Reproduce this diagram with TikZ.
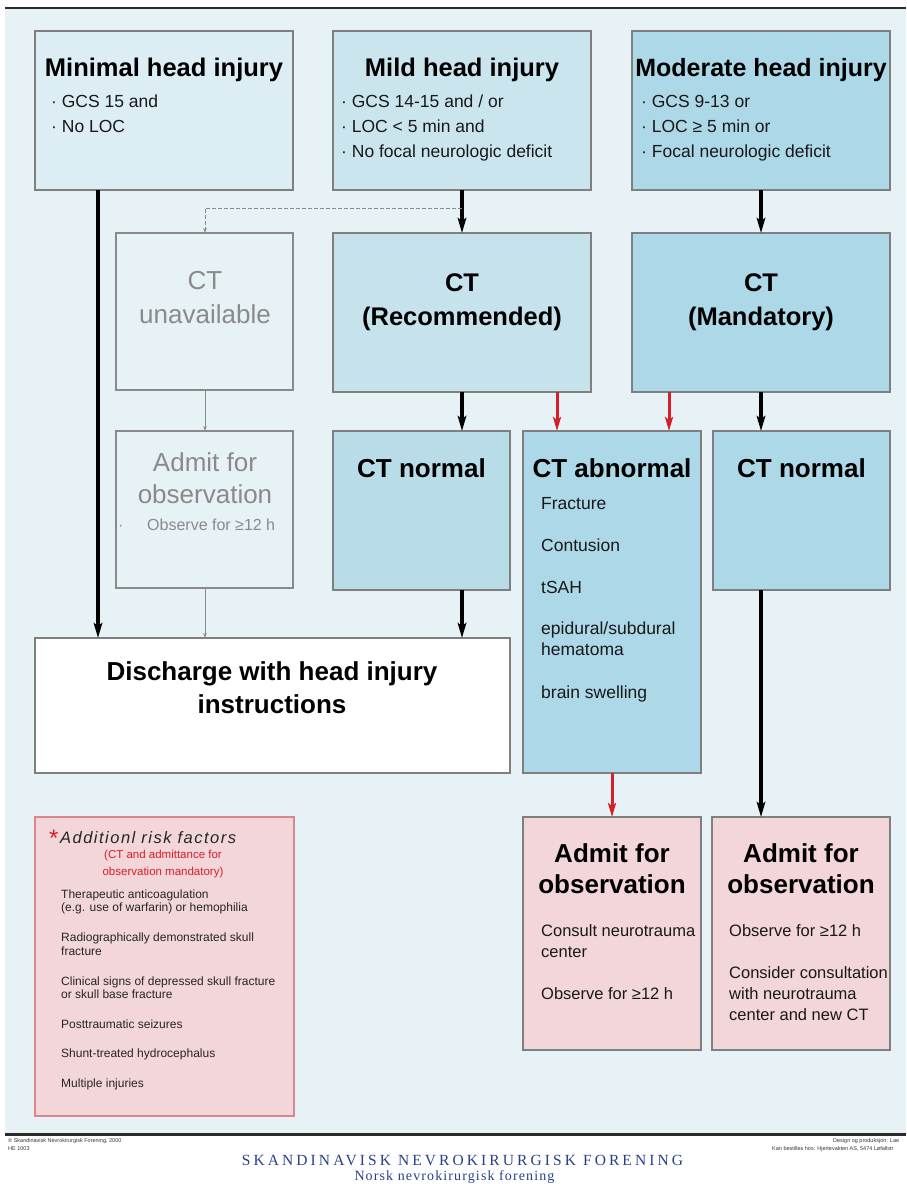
\documentclass[tikz,border=0pt]{standalone}
\usepackage{fontspec}
\setmainfont{Liberation Sans}
\newfontfamily\capserif{Liberation Serif}[LetterSpace=20]
\newfontfamily\lowserif{Liberation Serif}[LetterSpace=8]
\newfontfamily\spacedsans{Liberation Sans}[LetterSpace=9]
\usetikzlibrary{arrows.meta}
\definecolor{cBg}{HTML}{E7F2F6}
\definecolor{cMin}{HTML}{DCEDF4}
\definecolor{cMild}{HTML}{CBE5EF}
\definecolor{cMod}{HTML}{ADD8E7}
\definecolor{cRec}{HTML}{C6E2EC}
\definecolor{cNorm}{HTML}{B9DCE9}
\definecolor{cPink}{HTML}{F2D6D9}
\definecolor{cPinkEdge}{HTML}{D9868C}
\definecolor{cEdge}{HTML}{7F7F7F}
\definecolor{cGrayTxt}{HTML}{8A8A8A}
\definecolor{cRed}{HTML}{D42027}
\definecolor{cBlue}{HTML}{26408B}
\definecolor{cLine}{HTML}{2A2A2A}
\begin{document}
\begin{tikzpicture}[x=1pt,y=-1pt,
  box/.style={draw=cEdge,line width=1.5pt,anchor=north west,inner sep=0pt,outer sep=0pt},
  graybox/.style={box,draw=cGrayTxt,fill=cBg},
  pinkbox/.style={box,fill=cPink},
  blk/.style={draw=black,line width=3.8pt,-{Stealth[length=15pt,width=8.5pt,inset=3pt]}},
  redarr/.style={draw=cRed,line width=3pt,-{Stealth[length=14pt,width=8pt,inset=3pt]}},
  gry/.style={draw=cGrayTxt,line width=0.9pt,-{Stealth[length=5pt,width=3.5pt]}},
  ttl/.style={anchor=base,inner sep=0pt,text=black,font=\fontsize{25.5}{25.5}\selectfont\bfseries},
  big/.style={anchor=base,inner sep=0pt,text=black,font=\fontsize{26}{26}\selectfont\bfseries},
  ctt/.style={anchor=base,inner sep=0pt,text=black,font=\fontsize{25.5}{25.5}\selectfont\bfseries},
  grayttl/.style={anchor=base,inner sep=0pt,text=cGrayTxt,font=\fontsize{26}{26}\selectfont},
  bul/.style={anchor=base west,inner sep=0pt,text=black!90,font=\fontsize{17.5}{17.5}\selectfont},
  itm/.style={anchor=base west,inner sep=0pt,text=black!90,font=\fontsize{17.5}{17.5}\selectfont},
  adt/.style={anchor=base west,inner sep=0pt,text=black!90,font=\fontsize{16.5}{16.5}\selectfont},
  rsk/.style={anchor=base west,inner sep=0pt,text=black!85,font=\fontsize{12}{12}\selectfont},
  rsub/.style={anchor=base,inner sep=0pt,text=cRed,font=\fontsize{11.5}{11.5}\selectfont},
  tiny/.style={inner sep=0pt,text=black!80,font=\fontsize{5.5}{5.5}\selectfont}
]
\useasboundingbox (0,0) rectangle (906,1184);
\clip (0,0) rectangle (906,1184);
% background and rules
\fill[cBg] (5,8) rectangle (906,1134);
\draw[cLine,line width=2pt] (5,8) -- (906,8);
\draw[cLine,line width=3pt] (5,1134.5) -- (906,1134.5);

% boxes
\node[box,fill=cMin,minimum width=258pt,minimum height=159pt] (min) at (35,31) {};
\node[box,fill=cMild,minimum width=258pt,minimum height=159pt] (mild) at (333,31) {};
\node[box,fill=cMod,minimum width=258pt,minimum height=159pt] (mod) at (632,31) {};
\node[graybox,minimum width=177pt,minimum height=157pt] (ctu) at (116,233) {};
\node[box,fill=cRec,minimum width=258pt,minimum height=159pt] (ctr) at (333,233) {};
\node[box,fill=cMod,minimum width=258pt,minimum height=159pt] (ctm) at (632,233) {};
\node[graybox,minimum width=177pt,minimum height=157pt] (adg) at (116,431) {};
\node[box,fill=cNorm,minimum width=177pt,minimum height=159pt] (ctn1) at (333,431) {};
\node[box,fill=cMod,minimum width=178pt,minimum height=342pt] (cta) at (523,431) {};
\node[box,fill=cMod,minimum width=177pt,minimum height=159pt] (ctn2) at (713,431) {};
\node[box,fill=white,minimum width=475pt,minimum height=135pt] (dis) at (35,638) {};
\node[pinkbox,draw=cPinkEdge,minimum width=259pt,minimum height=299pt] (risk) at (35,817) {};
\node[pinkbox,minimum width=178pt,minimum height=233pt] (adm1) at (523,817) {};
\node[pinkbox,minimum width=178pt,minimum height=233pt] (adm2) at (712,817) {};

% connectors
\coordinate (split) at (462,208);
\draw[blk] (min.south -| 98,0) -- (dis.north -| 98,0);
\draw[blk] (mild.south -| 462,0) -- (ctr.north -| 462,0);
\draw[gry,dash pattern=on 4pt off 2pt] (split) -| (ctu.north -| 205,0);
\draw[gry] (ctu.south -| 205,0) -- (adg.north -| 205,0);
\draw[gry] (adg.south -| 205,0) -- (dis.north -| 205,0);
\draw[blk] (ctr.south -| 462,0) -- (ctn1.north -| 462,0);
\draw[redarr] (ctr.south -| 557,0) -- (cta.north -| 557,0);
\draw[redarr] (ctm.south -| 669,0) -- (cta.north -| 669,0);
\draw[blk] (ctm.south -| 761,0) -- (ctn2.north -| 761,0);
\draw[blk] (mod.south -| 761,0) -- (ctm.north -| 761,0);
\draw[blk] (ctn1.south -| 462,0) -- (dis.north -| 462,0);
\draw[redarr] (cta.south -| 612,0) -- (adm1.north -| 612,0);
\draw[blk] (ctn2.south -| 761,0) -- (adm2.north -| 761,0);

% top box texts
\node[ttl] (tmin) at (164,76) {Minimal head injury};
\node[bul] (bmin1) at (51,107) {· GCS 15 and};
\node[bul] (bmin2) at (51,132) {· No LOC};
\node[ttl] (tmild) at (462,76) {Mild head injury};
\node[bul] (bmild1) at (341,107) {· GCS 14-15 and / or};
\node[bul] (bmild2) at (341,132) {· LOC < 5 min and};
\node[bul] (bmild3) at (341,157) {· No focal neurologic deficit};
\node[ttl,font=\fontsize{25}{25}\selectfont\bfseries] (tmod) at (761,76) {Moderate head injury};
\node[bul] (bmod1) at (641,107) {· GCS 9-13 or};
\node[bul] (bmod2) at (641,132) {· LOC ≥ 5 min or};
\node[bul] (bmod3) at (641,157) {· Focal neurologic deficit};

% CT row
\node[grayttl] (tctu1) at (205,289) {CT};
\node[grayttl] (tctu2) at (205,323) {unavailable};
\node[ctt] (tctr1) at (462,291) {CT};
\node[ctt] (tctr2) at (462,325) {(Recommended)};
\node[ctt] (tctm1) at (761,291) {CT};
\node[ctt] (tctm2) at (761,325) {(Mandatory)};

% third row
\node[grayttl] (tadg1) at (205,471) {Admit for};
\node[grayttl] (tadg2) at (205,503) {observation};
\node[anchor=base west,inner sep=0pt,text=cGrayTxt,font=\fontsize{16}{16}\selectfont] (tadg3) at (118,530) {·};
\node[anchor=base west,inner sep=0pt,text=cGrayTxt,font=\fontsize{16}{16}\selectfont] (tadg4) at (147,530) {Observe for ≥12 h};
\node[big] (tctn1) at (421.5,477) {CT normal};
\node[big] (tcta) at (612,477) {CT abnormal};
\node[big] (tctn2) at (801.5,477) {CT normal};
\node[itm] (a1) at (541,509) {Fracture};
\node[itm] (a2) at (541,551) {Contusion};
\node[itm] (a3) at (541,593) {tSAH};
\node[itm] (a4) at (541,634) {epidural/subdural};
\node[itm] (a5) at (541,655) {hematoma};
\node[itm] (a6) at (541,698) {brain swelling};

% discharge
\node[big] (tdis1) at (272,680) {Discharge with head injury};
\node[big] (tdis2) at (272,713) {instructions};

% admit boxes
\node[big] (tadm1a) at (612,862) {Admit for};
\node[big] (tadm1b) at (612,893) {observation};
\node[adt] (m1) at (541,936) {Consult neurotrauma};
\node[adt] (m2) at (541,957) {center};
\node[adt] (m3) at (541,999) {Observe for ≥12 h};
\node[big] (tadm2a) at (801,862) {Admit for};
\node[big] (tadm2b) at (801,893) {observation};
\node[adt] (n1) at (729,936) {Observe for ≥12 h};
\node[adt] (n2) at (729,978) {Consider consultation};
\node[adt] (n3) at (729,999) {with neurotrauma};
\node[adt] (n4) at (729,1020) {center and new CT};

% risk factors
\node[anchor=base west,inner sep=0pt,text=cRed,font=\fontsize{24}{24}\selectfont] (rstar) at (49,846) {*};
\node[anchor=base west,inner sep=0pt,text=black!85,font=\spacedsans\itshape\fontsize{16.5}{16.5}\selectfont] (rtitle) at (60,843) {Additionl risk factors};
\node[rsub] (rs1) at (163,858) {(CT and admittance for};
\node[rsub] (rs2) at (163,875) {observation mandatory)};
\node[rsk] (r1) at (61,898) {Therapeutic anticoagulation};
\node[rsk] (r2) at (61,911) {(e.g. use of warfarin) or hemophilia};
\node[rsk] (r3) at (61,941) {Radiographically demonstrated skull};
\node[rsk] (r4) at (61,955) {fracture};
\node[rsk] (r5) at (61,985) {Clinical signs of depressed skull fracture};
\node[rsk] (r6) at (61,998) {or skull base fracture};
\node[rsk] (r7) at (61,1028) {Posttraumatic seizures};
\node[rsk] (r8) at (61,1057) {Shunt-treated hydrocephalus};
\node[rsk] (r9) at (61,1087) {Multiple injuries};

% footer
\node[tiny,anchor=base west] (f1) at (8,1142) {© Skandinavisk Nevrokirurgisk Forening, 2000};
\node[tiny,anchor=base west] (f2) at (8,1150) {HE 1003};
\node[tiny,anchor=base west] (f3) at (833,1142) {Design og produksjon: Lae};
\node[tiny,anchor=base west] (f4) at (772,1150) {Kan bestilles hos: Hjertevakten AS, 5474 Løfallstr};
\node[anchor=base,inner sep=0pt,text=cBlue,font=\capserif\fontsize{15.5}{15.5}\selectfont] (f5) at (462.5,1165) {SKANDINAVISK NEVROKIRURGISK FORENING};
\node[anchor=base,inner sep=0pt,text=cBlue,font=\lowserif\fontsize{14}{14}\selectfont] (f6) at (454.5,1180.5) {Norsk nevrokirurgisk forening};
\end{tikzpicture}
\end{document}
